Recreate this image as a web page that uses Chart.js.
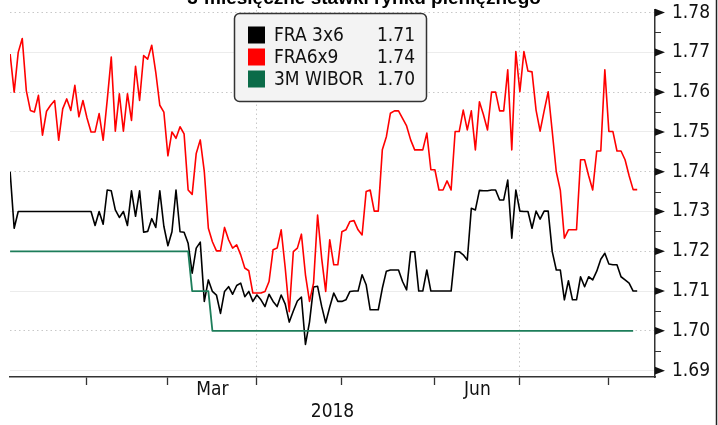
<!DOCTYPE html>
<html>
<head>
<meta charset="utf-8">
<script src="https://cdn.jsdelivr.net/npm/chart.js@4/dist/chart.umd.min.js"></script>
<style>
html,body{margin:0;padding:0;background:#fff;overflow:hidden}
#wrap{position:relative;width:718px;height:425px}
</style>
</head>
<body>
<div id="wrap"><canvas id="c" width="718" height="425"></canvas></div>
<script>
// ---------- data ----------
const chartTitle = '3-miesięczne stawki rynku pieniężnego';
const seriesNames = ['FRA 3x6', 'FRA6x9', '3M WIBOR'];
const yearLabel = '2018';
// x is a trading-day (weekday) index: 0 = Mon 1 Jan 2018; first observation = Fri 5 Jan 2018
const firstDay = 4;

const fra3x6 = [
  1.740,1.7258,1.730,1.730,1.730,1.730,1.730,1.730,1.730,1.730,
  1.730,1.730,1.730,1.730,1.730,1.730,1.730,1.730,1.730,1.730,
  1.730,1.7265,1.730,1.7268,1.7354,1.7352,1.7304,1.7285,1.730,1.7265,
  1.7352,1.7288,1.7352,1.7248,1.725,1.7282,1.726,1.7352,1.7263,1.7214,
  1.7249,1.7354,1.7249,1.7248,1.722,1.7145,1.7208,1.7223,1.7074,1.7128,
  1.7099,1.709,1.7044,1.7099,1.7111,1.7092,1.7114,1.712,1.7086,1.7099,
  1.7074,1.709,1.7078,1.7061,1.7092,1.7074,1.7061,1.709,1.7067,1.7022,
  1.705,1.7075,1.7085,1.6966,1.7022,1.711,1.7112,1.7062,1.702,1.706,
  1.7095,1.7074,1.7074,1.7078,1.7099,1.71,1.71,1.7141,1.7116,1.7053,
  1.7053,1.7053,1.7107,1.715,1.7153,1.7153,1.7153,1.7124,1.7103,1.7199,
  1.7199,1.71,1.71,1.7153,1.71,1.71,1.71,1.71,1.71,1.71,
  1.7199,1.7199,1.7191,1.7178,1.7308,1.7304,1.7353,1.7352,1.7352,1.7354,
  1.7354,1.7329,1.7329,1.7379,1.7233,1.7354,1.7301,1.730,1.730,1.7258,
  1.7301,1.7281,1.7301,1.7301,1.7199,1.7153,1.7153,1.7078,1.7126,1.7078,
  1.7078,1.7136,1.7111,1.7136,1.7128,1.715,1.718,1.7195,1.7168,1.7166,
  1.7166,1.7136,1.7128,1.712,1.71,1.71
];

const fra6x9 = [
  1.7696,1.760,1.770,1.7735,1.7604,1.7554,1.755,1.7592,1.7492,1.7552,
  1.7567,1.7579,1.7479,1.7558,1.7583,1.7554,1.7617,1.7538,1.7579,1.7535,
  1.750,1.750,1.7546,1.7479,1.758,1.7688,1.7502,1.7596,1.7502,1.7596,
  1.7529,1.7665,1.7579,1.7692,1.7683,1.7718,1.765,1.7567,1.755,1.744,
  1.750,1.7484,1.7513,1.7495,1.7354,1.7343,1.7446,1.748,1.740,1.7258,
  1.7224,1.7201,1.7201,1.726,1.7229,1.7208,1.7216,1.7191,1.7158,1.7151,
  1.7095,1.7095,1.7095,1.7099,1.7124,1.7204,1.7208,1.7254,1.7158,1.7048,
  1.7199,1.7208,1.7243,1.7141,1.7074,1.712,1.7291,1.7183,1.7099,1.7229,
  1.7166,1.7166,1.7249,1.7254,1.7275,1.7277,1.7254,1.7241,1.735,1.7354,
  1.7301,1.7301,1.7455,1.7488,1.7547,1.7553,1.7553,1.7534,1.7515,1.748,
  1.7455,1.7455,1.7455,1.7497,1.7405,1.7405,1.7354,1.7354,1.7377,1.7354,
  1.7501,1.7501,1.7555,1.7505,1.7553,1.7455,1.7576,1.7543,1.7505,1.760,
  1.760,1.7553,1.7553,1.7656,1.7455,1.7702,1.7601,1.7702,1.7653,1.7651,
  1.7555,1.7502,1.7553,1.7601,1.7501,1.740,1.7353,1.7233,1.7254,1.7254,
  1.7254,1.743,1.743,1.739,1.7354,1.7452,1.7452,1.7656,1.7501,1.7501,
  1.7452,1.7452,1.743,1.739,1.7355,1.7355
];

const wibor3m = [
  1.72,1.72,1.72,1.72,1.72,1.72,1.72,1.72,1.72,1.72,1.72,1.72,1.72,1.72,1.72,
  1.72,1.72,1.72,1.72,1.72,1.72,1.72,1.72,1.72,1.72,1.72,1.72,1.72,1.72,1.72,
  1.72,1.72,1.72,1.72,1.72,1.72,1.72,1.72,1.72,1.72,1.72,1.72,1.72,1.72,1.72,
  1.71,1.71,1.71,1.71,1.71,
  1.70,1.70,1.70,1.70,1.70,1.70,1.70,1.70,1.70,1.70,1.70,1.70,1.70,1.70,1.70,
  1.70,1.70,1.70,1.70,1.70,1.70,1.70,1.70,1.70,1.70,1.70,1.70,1.70,1.70,1.70,
  1.70,1.70,1.70,1.70,1.70,1.70,1.70,1.70,1.70,1.70,1.70,1.70,1.70,1.70,1.70,
  1.70,1.70,1.70,1.70,1.70,1.70,1.70,1.70,1.70,1.70,1.70,1.70,1.70,1.70,1.70,
  1.70,1.70,1.70,1.70,1.70,1.70,1.70,1.70,1.70,1.70,1.70,1.70,1.70,1.70,1.70,
  1.70,1.70,1.70,1.70,1.70,1.70,1.70,1.70,1.70,1.70,1.70,1.70,1.70,1.70,1.70,
  1.70,1.70,1.70,1.70,1.70,1.70,1.70,1.70,1.70,1.70,1.70,1.70,1.70,1.70,1.70
];

const yTicks = [1.69, 1.70, 1.71, 1.72, 1.73, 1.74, 1.75, 1.76, 1.77, 1.78];
// weekday index of first trading day of Feb, Mar, Apr, May, Jun, Jul, Aug 2018
const monthStarts = [23, 43, 65, 86, 109, 130, 152];
const quarterStarts = [65, 130];
const labeledMonths = [{text: 'Mar', from: 43, to: 65}, {text: 'Jun', from: 109, to: 130}];

// ---------- chart ----------
const FONT = "'DejaVu Sans Condensed','DejaVu Sans',sans-serif";
Chart.defaults.font.family = FONT;
Chart.defaults.font.size = 19;
Chart.defaults.color = '#111';

const labels = fra6x9.map((_, k) => firstDay + k);
const monthLabelPos = labeledMonths.map(m => (m.from + m.to) / 2);
const xTickValues = monthStarts.concat(monthLabelPos).sort((a, b) => a - b);
const labelAt = v => { const i = monthLabelPos.indexOf(v); return i >= 0 ? labeledMonths[i].text : ''; };
const colors = {fra3x6: '#000000', fra6x9: '#ff0000', wibor: '#1d7d5a', wiborSwatch: '#0b6b48'};

const decor = {
  id: 'decor',
  afterDraw(chart) {
    const ctx = chart.ctx, y = chart.scales.y, area = chart.chartArea;
    ctx.save();
    ctx.fillStyle = '#111';
    ctx.strokeStyle = '#333';
    ctx.lineWidth = 1;
    yTicks.forEach((v, i) => {
      const py = y.getPixelForValue(v);
      ctx.beginPath();
      ctx.moveTo(area.right, py - 3.8);
      ctx.lineTo(area.right + 10, py);
      ctx.lineTo(area.right, py + 3.8);
      ctx.closePath();
      ctx.fill();
      if (i < yTicks.length - 1) {
        const mp = y.getPixelForValue((v + yTicks[i + 1]) / 2);
        ctx.beginPath();
        ctx.moveTo(area.right, Math.round(mp) + 0.5);
        ctx.lineTo(area.right + 6, Math.round(mp) + 0.5);
        ctx.stroke();
      }
    });
    ctx.strokeStyle = '#222';
    ctx.lineWidth = 1.5;
    ctx.beginPath();
    ctx.moveTo(716.5, 0);
    ctx.lineTo(716.5, 425);
    ctx.stroke();
    ctx.fillStyle = '#000';
    ctx.font = "bold 19px 'Liberation Sans', Arial, sans-serif";
    ctx.textAlign = 'center';
    ctx.textBaseline = 'alphabetic';
    ctx.fillText(chartTitle, 364, 4);
    const bx = 234.5, by = 13.5, bw = 192, bh = 88;
    ctx.beginPath();
    ctx.roundRect(bx, by, bw, bh, 5);
    ctx.fillStyle = '#f3f3f3';
    ctx.fill();
    ctx.strokeStyle = '#333';
    ctx.lineWidth = 1.5;
    ctx.stroke();
    const rows = [
      {name: seriesNames[0], color: colors.fra3x6, data: fra3x6},
      {name: seriesNames[1], color: colors.fra6x9, data: fra6x9},
      {name: seriesNames[2], color: colors.wiborSwatch, data: wibor3m}
    ];
    ctx.font = "19px " + FONT;
    ctx.textBaseline = 'middle';
    rows.forEach((r, i) => {
      const cy = 35 + i * 22;
      ctx.fillStyle = r.color;
      ctx.fillRect(248, cy - 8.5, 17, 17);
      ctx.fillStyle = '#111';
      ctx.textAlign = 'left';
      ctx.fillText(r.name, 274, cy + 1);
      ctx.textAlign = 'right';
      ctx.fillText(r.data[r.data.length - 1].toFixed(2), 415, cy + 1);
    });
    ctx.restore();
  }
};

new Chart(document.getElementById('c'), {
  type: 'line',
  data: {
    labels,
    datasets: [
      {label: seriesNames[2], data: wibor3m, borderColor: colors.wibor, borderWidth: 1.8},
      {label: seriesNames[1], data: fra6x9, borderColor: colors.fra6x9, borderWidth: 1.6},
      {label: seriesNames[0], data: fra3x6, borderColor: colors.fra3x6, borderWidth: 1.6}
    ]
  },
  options: {
    responsive: false,
    animation: false,
    layout: {padding: {left: 10, top: 10, right: 0, bottom: 0}},
    elements: {point: {radius: 0}, line: {tension: 0, borderJoinStyle: 'round'}},
    plugins: {legend: {display: false}, tooltip: {enabled: false}},
    scales: {
      x: {
        type: 'linear',
        min: 3.97,
        max: 163.4,
        afterBuildTicks: s => { s.ticks = xTickValues.map(v => ({value: v})); },
        afterFit: s => { s.height = 48; s.paddingLeft = 0; s.paddingRight = 0; },
        grid: {
          color: c => (c.tick && quarterStarts.includes(c.tick.value)) ? '#c8c8c8' : 'rgba(0,0,0,0)',
          lineWidth: 1,
          tickLength: 8,
          tickWidth: 1.3,
          tickColor: c => (c.tick && monthStarts.includes(c.tick.value)) ? '#333' : 'rgba(0,0,0,0)'
        },
        border: {display: true, color: '#333', width: 1.5, dash: [1.5, 3]},
        ticks: {autoSkip: false, maxRotation: 0, padding: -6, color: '#111', callback: v => labelAt(v)},
        title: {display: true, text: yearLabel, color: '#111', padding: {top: 0, bottom: 2}, font: {size: 19}}
      },
      y: {
        position: 'right',
        min: 1.6884,
        max: 1.78065,
        afterBuildTicks: s => { s.ticks = yTicks.map(v => ({value: v})); },
        afterFit: s => { s.width = 63; s.paddingTop = 0; s.paddingBottom = 0; },
        grid: {
          drawTicks: false,
          lineWidth: 1,
          color: c => (c.tick && Math.round(c.tick.value * 100) % 2 === 0) ? '#c8c8c8' : '#ececec'
        },
        border: {
          display: true, color: '#333', width: 1.5,
          dash: c => (c.tick && Math.round(c.tick.value * 100) % 2 === 0) ? [1.5, 3] : []
        },
        ticks: {padding: 17, color: '#111', callback: v => Number(v).toFixed(2)}
      }
    }
  },
  plugins: [decor]
});
</script>
</body>
</html>
